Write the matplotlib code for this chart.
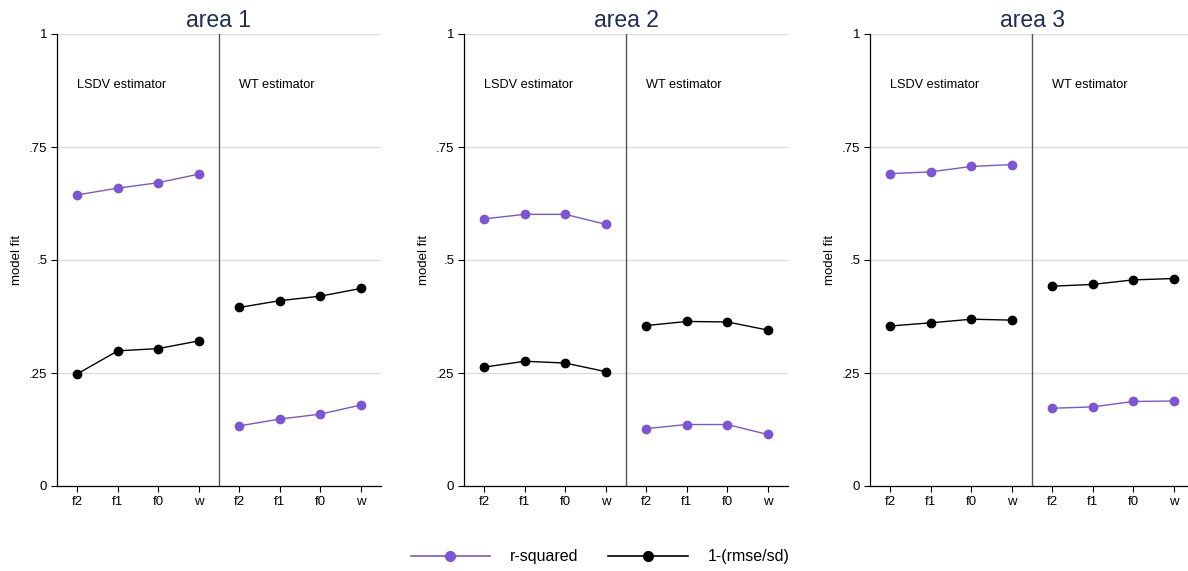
import matplotlib
matplotlib.use("Agg")
import matplotlib.pyplot as plt
from matplotlib.lines import Line2D

plt.rcParams["font.family"] = ["Liberation Sans", "DejaVu Sans"]

# ── data ───────────────────────────────────────────────────────────────
areas = ["area 1", "area 2", "area 3"]
specs = ["f2", "f1", "f0", "w"]
estimators = ["LSDV estimator", "WT estimator"]

# r-squared: [LSDV f2,f1,f0,w], [WT f2,f1,f0,w]
rsq_lsdv = [[0.644, 0.659, 0.671, 0.690],
            [0.591, 0.601, 0.601, 0.579],
            [0.691, 0.695, 0.707, 0.711]]
rsq_wt = [[0.133, 0.148, 0.159, 0.179],
          [0.127, 0.136, 0.136, 0.114],
          [0.172, 0.175, 0.187, 0.188]]
# 1-(rmse/sd)
rmse_lsdv = [[0.248, 0.299, 0.304, 0.321],
             [0.263, 0.276, 0.272, 0.253],
             [0.354, 0.361, 0.369, 0.367]]
rmse_wt = [[0.395, 0.410, 0.420, 0.437],
           [0.355, 0.364, 0.363, 0.345],
           [0.442, 0.446, 0.456, 0.459]]

yticks = [0, 0.25, 0.5, 0.75, 1]
ytick_labels = ["0", ".25", ".5", ".75", "1"]

PURPLE = "#7b55d6"
TITLE_C = "#1c2d57"

W, H = 1188, 571
fig = plt.figure(figsize=(W / 100, H / 100), dpi=100)

lefts = [57, 464, 870]
ax_w, bottom, top = 324, 486, 34

x_l = [1, 2, 3, 4]
x_r = [5, 6, 7, 8]

for i, name in enumerate(areas):
    ax = fig.add_axes([lefts[i] / W, 1 - bottom / H, ax_w / W, (bottom - top) / H])
    ax.set_xlim(0.5, 8.5)
    ax.set_ylim(0, 1)
    for y in yticks[1:]:
        ax.axhline(y, color="#dcdcdc", lw=1, zorder=0)
    ax.axvline(4.5, color="#555555", lw=1, zorder=1)

    ax.plot(x_l, rsq_lsdv[i], "-o", color=PURPLE, lw=1, ms=6, zorder=3)
    ax.plot(x_r, rsq_wt[i], "-o", color=PURPLE, lw=1, ms=6, zorder=3)
    ax.plot(x_l, rmse_lsdv[i], "-o", color="black", lw=1, ms=6, zorder=3)
    ax.plot(x_r, rmse_wt[i], "-o", color="black", lw=1, ms=6, zorder=3)

    ax.text(1, 0.887, estimators[0], fontsize=9.2, va="center", ha="left")
    ax.text(5, 0.887, estimators[1], fontsize=9.2, va="center", ha="left")

    ax.set_xticks(x_l + x_r)
    ax.set_xticklabels(specs + specs, fontsize=9.5)
    ax.set_yticks(yticks)
    ax.set_yticklabels(ytick_labels, fontsize=9.5)
    ax.tick_params(length=4, width=0.8, pad=3)
    ax.set_ylabel("model fit", fontsize=9.5, labelpad=4)
    for s in ("top", "right"):
        ax.spines[s].set_visible(False)
    for s in ("left", "bottom"):
        ax.spines[s].set_linewidth(0.9)
    ax.set_title(name, fontsize=16.5, color=TITLE_C, pad=5)

handles = [
    Line2D([], [], color=PURPLE, marker="o", lw=1.2, ms=7),
    Line2D([], [], color="black", marker="o", lw=1.2, ms=7),
]
fig.legend(handles, ["r-squared", "1-(rmse/sd)"], loc="center",
           bbox_to_anchor=(0.505, 1 - 557 / H), ncol=2, frameon=False,
           fontsize=11.5, handlelength=5.0, columnspacing=1.9, handletextpad=1.2)

fig.savefig("out.png", dpi=100)
